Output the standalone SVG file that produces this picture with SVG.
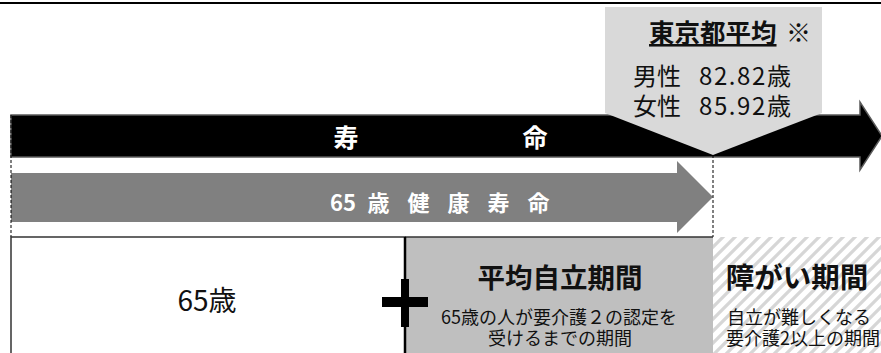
<svg xmlns="http://www.w3.org/2000/svg" width="881" height="353" viewBox="0 0 881 353">
<defs>
<style>
.jp{font-family:"Noto Sans CJK JP","Noto Sans",sans-serif;}
.w{fill:#ffffff;font-weight:bold;}
.k{fill:#111111;}
.b{font-weight:bold;}
.dash{stroke:#000;stroke-width:1;stroke-dasharray:3,2;fill:none;}
</style>
<pattern id="hatch" patternUnits="userSpaceOnUse" width="12" height="12">
<rect width="12" height="12" fill="#ffffff"/>
<path d="M-3,3 L3,-3 M0,12 L12,0 M9,15 L15,9" stroke="#d6d6d6" stroke-width="3.2"/>
</pattern>
</defs>
<rect width="881" height="353" fill="#ffffff"/>
<rect id="topline" x="0" y="2" width="881" height="2" fill="#000"/>

<g id="lifespan">
<polygon points="11,115 860,115 860,102 882,136 860,170 860,157 11,157" fill="#000" stroke="#5a5a5a" stroke-width="1.5"/>
<text class="jp w" x="346" y="147" font-size="25" text-anchor="middle">寿</text>
<text class="jp w" x="535" y="147" font-size="25" text-anchor="middle">命</text>
</g>

<g id="tokyo-avg">
<polygon points="605,7 822,7 822,113 713,155 605,113" fill="#d9d9d9"/>
<text class="jp k b" x="649" y="42" font-size="25.5" text-decoration="underline">東京都平均</text>
<text class="jp k b" x="786" y="42" font-size="25" font-weight="900">※</text>
<text class="jp k" x="633" y="85" font-size="24">男性<tspan x="699" letter-spacing="1.6">82.82歳</tspan></text>
<text class="jp k" x="633" y="115" font-size="24">女性<tspan x="699" letter-spacing="1.6">85.92歳</tspan></text>
</g>

<g id="healthy-life">
<polygon points="11,173 677,173 677,161 713,197 677,233 677,222 11,222" fill="#808080"/>
<text class="jp w" x="330" y="211" font-size="22">65<tspan letter-spacing="6.5"> 歳 健 康 寿 命</tspan></text>
</g>

<g id="connectors">
<line class="dash" x1="11" y1="115" x2="11" y2="237"/>
<line class="dash" x1="713" y1="155" x2="713" y2="353"/>
</g>

<g id="age65">
<rect x="11" y="237" width="394" height="130" fill="#ffffff" stroke="#333" stroke-width="1.5"/>
<text class="jp k" x="207" y="311" font-size="28" text-anchor="middle">65歳</text>
</g>

<g id="independent">
<rect x="405" y="237" width="308" height="130" fill="#bfbfbf"/>
<line x1="405" y1="237" x2="713" y2="237" stroke="#333" stroke-width="1.5"/>
<text class="jp k b" x="560" y="288" font-size="27.5" text-anchor="middle">平均自立期間</text>
<text class="jp k" x="559" y="324" font-size="18" text-anchor="middle">65歳の人が要介護２の認定を</text>
<text class="jp k" x="560" y="345" font-size="18" text-anchor="middle">受けるまでの期間</text>
</g>

<g id="disability">
<rect x="713" y="237" width="170" height="130" fill="url(#hatch)"/>
<text class="jp k b" x="797" y="288" font-size="28.5" text-anchor="middle">障がい期間</text>
<text class="jp k" x="799" y="324" font-size="18" text-anchor="middle">自立が難しくなる</text>
<text class="jp k" x="803" y="345" font-size="18" text-anchor="middle">要介護2以上の期間</text>
</g>

<g id="plus">
<line x1="405" y1="237" x2="405" y2="353" stroke="#000" stroke-width="2.5"/>
<rect x="382" y="297" width="46" height="10" fill="#000"/>
<rect x="401" y="279" width="8" height="48" fill="#000"/>
</g>
</svg>
